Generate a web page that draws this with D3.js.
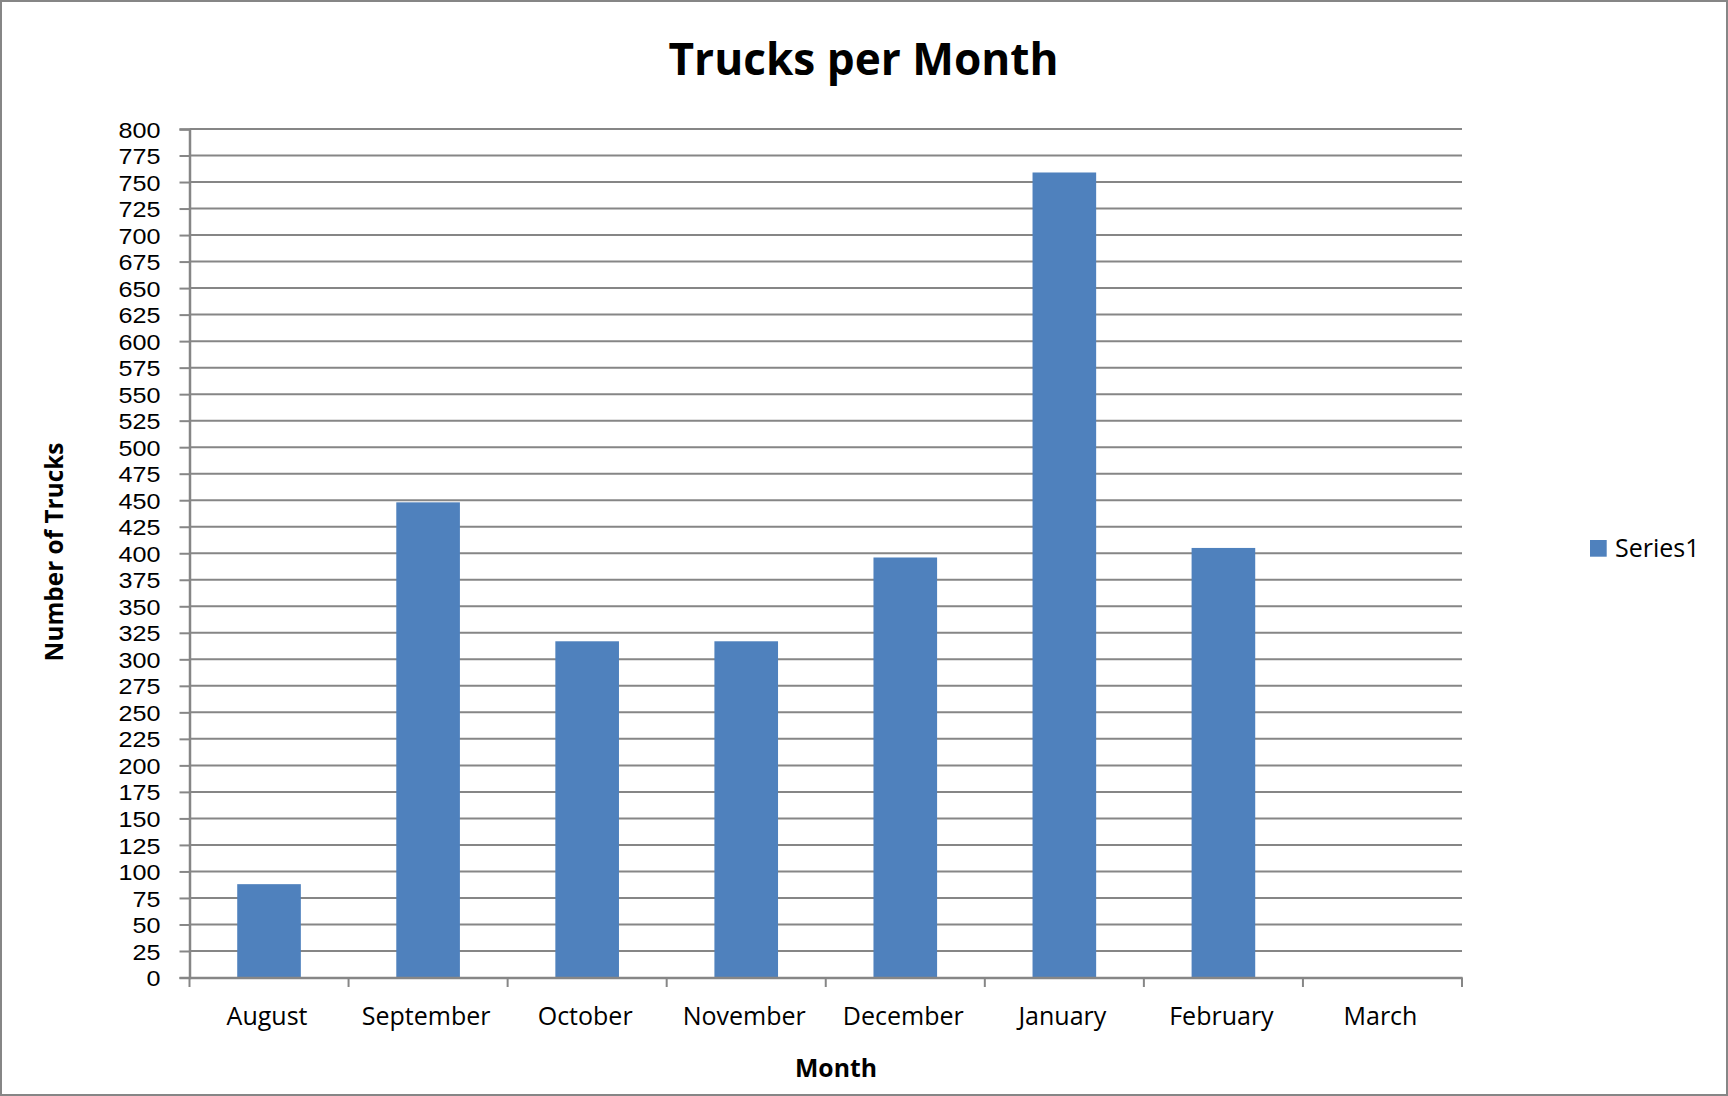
<!DOCTYPE html>
<html>
<head>
<meta charset="utf-8">
<script src="https://cdn.jsdelivr.net/npm/d3@7"></script>
<style>
  html, body { margin: 0; padding: 0; background: #fff; }
  svg { display: block; }
  text { font-family: "Open Sans", "Liberation Sans", sans-serif; fill: #000; }
</style>
</head>
<body>
<svg id="chart" width="1728" height="1096"></svg>
<script>
// ---- data ----
const months = ["August", "September", "October", "November", "December", "January", "February", "March"];
const trucks = [88, 448, 317, 317, 396, 759, 405, null];
const yTicks = [0, 25, 50, 75, 100, 125, 150, 175, 200, 225, 250, 275, 300, 325, 350, 375, 400,
                425, 450, 475, 500, 525, 550, 575, 600, 625, 650, 675, 700, 725, 750, 775, 800];
const seriesName = "Series1";
const titleText = "Trucks per Month";
const xTitle = "Month";
const yTitle = "Number of Trucks";

// ---- layout ----
const W = 1728, H = 1096;
const plot = { left: 189.5, right: 1462, top: 129, bottom: 977.5 };
const gridColor = "#868686";
const barColor = "#4F81BD";

const svg = d3.select("#chart");

// outer border
svg.append("rect")
  .attr("x", 1).attr("y", 1).attr("width", W - 2).attr("height", H - 2)
  .attr("fill", "#fff").attr("stroke", gridColor).attr("stroke-width", 2);

const x = d3.scaleBand().domain(months).range([plot.left, plot.right]).paddingInner(0).paddingOuter(0);
const y = d3.scaleLinear().domain([0, 800]).range([plot.bottom, plot.top]);

// gridlines
svg.append("g").selectAll("line").data(yTicks.filter(d => d > 0)).join("line")
  .attr("x1", plot.left).attr("x2", plot.right)
  .attr("y1", d => y(d)).attr("y2", d => y(d))
  .attr("stroke", gridColor).attr("stroke-width", 2);

// bars
const bw = x.bandwidth() / 2.5;
svg.append("g").selectAll("rect").data(months.map((m, i) => ({ m, v: trucks[i] })).filter(d => d.v != null)).join("rect")
  .attr("x", d => x(d.m) + (x.bandwidth() - bw) / 2)
  .attr("width", bw)
  .attr("y", d => y(d.v))
  .attr("height", d => y(0) - y(d.v))
  .attr("fill", barColor);

// y axis
const yAxis = d3.axisLeft(y).tickValues(yTicks).tickSize(10).tickPadding(19).tickFormat(d3.format("d"));
const gy = svg.append("g").attr("transform", `translate(${plot.left},0)`).call(yAxis);
gy.select(".domain").attr("stroke", gridColor).attr("stroke-width", 2.5);
gy.selectAll(".tick line").attr("stroke", gridColor).attr("stroke-width", 2);
gy.selectAll(".tick text")
  .style("font-family", "'Liberation Sans', Arial, sans-serif")
  .style("font-size", "22.5px").attr("dy", "0.36em")
  .attr("x", -29 / 1.12)
  .attr("transform", "scale(1.12,1)");

// x axis
const xAxis = d3.axisBottom(x).tickSize(0).tickPadding(0);
const gx = svg.append("g").attr("transform", `translate(0,${plot.bottom})`).call(xAxis);
gx.select(".domain").attr("stroke", gridColor).attr("stroke-width", 2.5);
gx.selectAll(".tick text").style("font-size", "25px").attr("y", 0).attr("dy", 0)
  .attr("transform", "translate(-2,47)");
// category boundary tick marks
const bounds = months.map(m => x(m)).concat([plot.right]);
svg.append("g").selectAll("line").data(bounds).join("line")
  .attr("x1", d => d).attr("x2", d => d)
  .attr("y1", plot.bottom).attr("y2", plot.bottom + 9.5)
  .attr("stroke", gridColor).attr("stroke-width", 2);

// fit helper
function fit(sel, targetW, startSize) {
  sel.style("font-size", startSize + "px");
  const w = sel.node().getComputedTextLength();
  sel.style("font-size", (startSize * targetW / w).toFixed(2) + "px");
}

// title
const t = svg.append("text").attr("x", 863.5).attr("y", 75).attr("text-anchor", "middle")
  .style("font-weight", "bold").text(titleText);
fit(t, 390, 48);

// x title
const xt = svg.append("text").attr("x", 836).attr("y", 1077).attr("text-anchor", "middle")
  .style("font-weight", "bold").text(xTitle);
fit(xt, 82, 25);

// y title
const yt = svg.append("text").attr("transform", "translate(63,552) rotate(-90)").attr("text-anchor", "middle")
  .style("font-weight", "bold").text(yTitle);
fit(yt, 219, 25);

// legend
const lg = svg.append("g");
lg.append("rect").attr("x", 1590).attr("y", 540).attr("width", 16.7).attr("height", 16.7).attr("fill", barColor);
lg.append("text").attr("x", 1615).attr("y", 557).style("font-size", "25px").text(seriesName);
</script>
</body>
</html>
